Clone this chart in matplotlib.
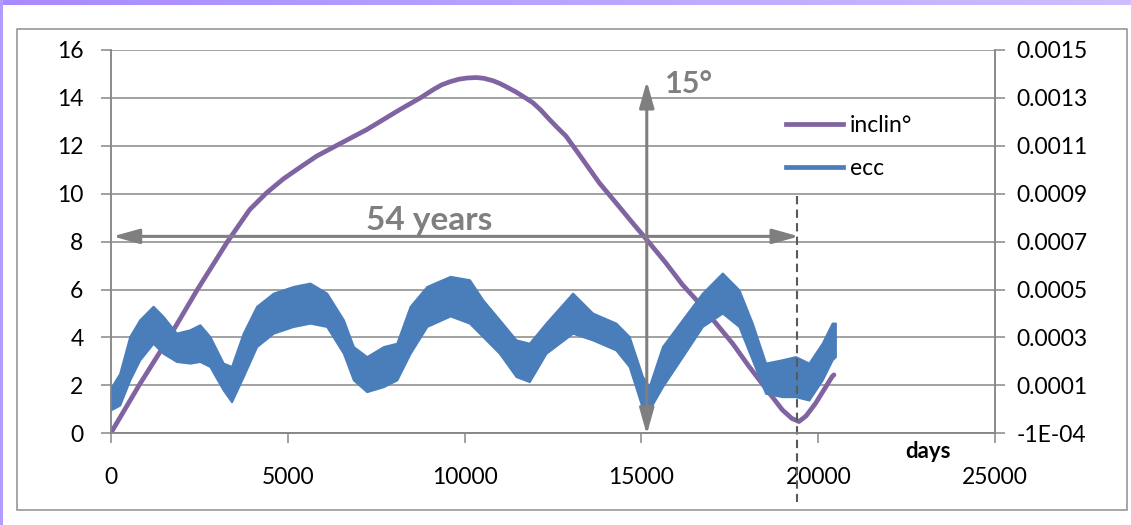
import numpy as np
import matplotlib
matplotlib.use("Agg")
import matplotlib.pyplot as plt
from matplotlib.patches import Rectangle
from matplotlib.lines import Line2D

plt.rcParams['font.family'] = ['Lato', 'DejaVu Sans']

# inclination (deg) vs days
inclin_days = [0, 800, 1650, 2450, 3300, 3930, 4400, 4880, 5350, 5820, 6430, 7240,
               8180, 8750, 9120, 9360, 9600, 9840, 10070, 10330, 10540, 10800,
               11000, 11200, 11450, 11700, 11930, 12150, 12400, 12630, 12870,
               13340, 13810, 14280, 14750, 15150, 15690, 16160, 16630, 17100,
               17570, 18040, 18510, 18980, 19250, 19450, 19650, 19920, 20390, 20440]
inclin = [0, 2.0, 4.0, 6.0, 8.0, 9.34, 10.03, 10.62, 11.1, 11.57, 12.05, 12.68,
          13.52, 14.0, 14.35, 14.55, 14.68, 14.78, 14.83, 14.85, 14.82, 14.72,
          14.6, 14.45, 14.25, 14.02, 13.8, 13.5, 13.1, 12.75, 12.4,
          11.43, 10.45, 9.62, 8.78, 8.08, 7.11, 6.2, 5.44, 4.6,
          3.76, 2.79, 1.88, 0.98, 0.62, 0.49, 0.72, 1.25, 2.37, 2.44]

# eccentricity: fast wobble shown as upper / lower envelope
ecc_days = [0, 255, 538, 821, 1198, 1481, 1858, 2236, 2519, 2802, 3179, 3415,
            3745, 4123, 4594, 5160, 5632, 6104, 6576, 6858, 7236, 7708, 8085,
            8462, 8934, 9594, 10138, 10515, 10985, 11455, 11831, 12301, 13054,
            13618, 14277, 14653, 15029, 15217, 15593, 16157, 16721, 17285,
            17755, 18131, 18508, 18978, 19354, 19731, 20107, 20389, 20480]
ecc_hi = [0.000088, 0.000150, 0.000304, 0.000374, 0.000430, 0.000388, 0.000318,
          0.000332, 0.000353, 0.000304, 0.000193, 0.000179, 0.000318, 0.000430,
          0.000485, 0.000513, 0.000527, 0.000485, 0.000374, 0.000262, 0.000220,
          0.000262, 0.000276, 0.000430, 0.000513, 0.000555, 0.000541, 0.000457,
          0.000374, 0.000290, 0.000276, 0.000360, 0.000485, 0.000402, 0.000360,
          0.000304, 0.000137, 0.000095, 0.000262, 0.000374, 0.000485, 0.000569,
          0.000499, 0.000360, 0.000193, 0.000207, 0.000220, 0.000193, 0.000276,
          0.000360, 0.000360]
ecc_lo = [-0.000002, 0.000018, 0.000123, 0.000207, 0.000276, 0.000234, 0.000200,
          0.000193, 0.000200, 0.000179, 0.000081, 0.000032, 0.000137, 0.000262,
          0.000318, 0.000346, 0.000360, 0.000346, 0.000234, 0.000123, 0.000074,
          0.000095, 0.000123, 0.000234, 0.000346, 0.000390, 0.000360, 0.000304,
          0.000234, 0.000137, 0.000116, 0.000234, 0.000318, 0.000290, 0.000248,
          0.000179, 0.000005, -0.000002, 0.000095, 0.000220, 0.000346, 0.000402,
          0.000346, 0.000207, 0.000067, 0.000053, 0.000053, 0.000039, 0.000123,
          0.000207, 0.000220]

inclin_ticks = [0, 2, 4, 6, 8, 10, 12, 14, 16]
ecc_ticks = [-0.0001, 0.0001, 0.0003, 0.0005, 0.0007, 0.0009, 0.0011, 0.0013, 0.0015]
ecc_labels = ['-1E-04', '0.0001', '0.0003', '0.0005', '0.0007', '0.0009',
              '0.0011', '0.0013', '0.0015']
day_ticks = [0, 5000, 10000, 15000, 20000, 25000]

W, H = 1131, 525
PURPLE = '#8064A2'
BLUE = '#4A7EBB'
GRID = '#878787'
ARROW = '#7F7F7F'

fig = plt.figure(figsize=(W / 100, H / 100), dpi=100)

# slide frame: purple strip along the top and left edge
strip = fig.add_axes([0, 1 - 5 / H, 1, 5 / H])
grad = np.linspace(0, 1, 256)[None, :]
strip.imshow(grad, aspect='auto', extent=(0, 1, 0, 1),
             cmap=matplotlib.colors.LinearSegmentedColormap.from_list(
                 'frame', ['#A78AFF', '#CDBEFF']))
strip.axis('off')
fig.add_artist(Rectangle((0, 0), 3 / W, 1, transform=fig.transFigure,
                         color='#B29CFF', lw=0))
fig.add_artist(Rectangle((16.7 / W, 1 - 510 / H), 1110 / W, 481 / H,
                         transform=fig.transFigure, fill=False,
                         edgecolor='#8E8E8E', lw=1.1))

ax = fig.add_axes([110.7 / W, 1 - 433.3 / H, 884.6 / W, 383.3 / H])
ax2 = ax.twinx()

ax.plot(inclin_days, inclin, color=PURPLE, lw=3.4, solid_capstyle='round',
        solid_joinstyle='round', zorder=3)
ax2.fill_between(ecc_days, ecc_lo, ecc_hi, color=BLUE, lw=1.5, edgecolor=BLUE)

ax.set_xlim(0, 25000)
ax.set_ylim(0, 16)
ax2.set_ylim(-0.0001, 0.0015)
ax.set_xticks(day_ticks)
ax.set_xticklabels([str(d) for d in day_ticks])
ax.set_yticks(inclin_ticks)
ax.set_yticklabels([str(t) for t in inclin_ticks])
ax2.set_yticks(ecc_ticks)
ax2.set_yticklabels(ecc_labels)

ax.yaxis.grid(True, color=GRID, lw=1.1)
ax.set_axisbelow(True)
for a in (ax, ax2):
    a.spines['top'].set_visible(False)
    for s in ('left', 'right', 'bottom'):
        a.spines[s].set_color(GRID)
        a.spines[s].set_linewidth(1.1)
    a.patch.set_visible(False)
ax.tick_params(axis='x', direction='out', length=7.5, width=1.1, color=GRID,
               labelsize=16.5, pad=17)
ax.tick_params(axis='y', direction='out', length=7.5, width=1.1, color=GRID,
               labelsize=16.5, pad=12)
ax2.tick_params(axis='y', direction='out', length=7.5, width=1.1, color=GRID,
                labelsize=16.5, pad=8)

# annotations drawn in inclination coordinates, on top of both series
arrow_kw = dict(arrowstyle='<|-|>,head_length=1.0,head_width=0.28',
                color=ARROW, lw=2.2, mutation_scale=16, shrinkA=0, shrinkB=0)
ax2.annotate('', xy=(60, 8.22), xytext=(19450, 8.22), xycoords=ax.transData,
             textcoords=ax.transData, arrowprops=arrow_kw, annotation_clip=False)
ax2.annotate('', xy=(15150, -0.05), xytext=(15150, 14.7), xycoords=ax.transData,
             textcoords=ax.transData, arrowprops=arrow_kw, annotation_clip=False)
ax2.plot([19400, 19400], [9.9, -2.85], transform=ax.transData, color='#595959',
         lw=1.5, ls=(0, (4, 2.5)), clip_on=False)
ax2.set_ylim(-0.0001, 0.0015)

ax2.text(9010, 8.49, '54 years', transform=ax.transData, ha='center',
         va='baseline', fontsize=24, fontweight='bold', color=ARROW)
ax2.text(15650, 14.19, '15°', transform=ax.transData, ha='left',
         va='baseline', fontsize=22, fontweight='bold', color=ARROW)
ax2.text(23090, -0.78, 'days', transform=ax.transData, ha='center',
         va='center', fontsize=16, fontweight='bold', color='black',
         clip_on=False)

handles = [Line2D([], [], color=PURPLE, lw=3.4), Line2D([], [], color=BLUE, lw=3.4)]
ax2.legend(handles, ['inclin°', 'ecc'], loc='upper left',
           bbox_to_anchor=(786 / W, 1 - 115 / H), bbox_transform=fig.transFigure,
           frameon=False, borderpad=0, borderaxespad=0, handlelength=2.5,
           handletextpad=0.3, labelspacing=0.95, fontsize=16.5)

fig.savefig('out.png', dpi=100)
